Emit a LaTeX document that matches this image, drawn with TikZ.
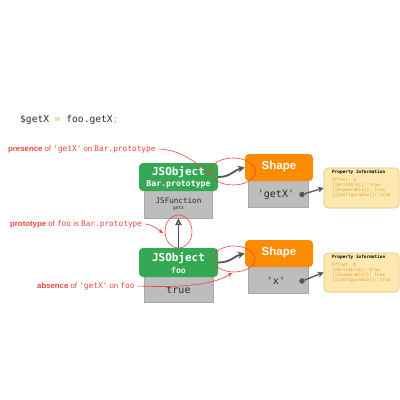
\documentclass[tikz,border=0pt]{standalone}
\usepackage{fontspec}
\setmainfont{Liberation Sans}
\setmonofont{DejaVu Sans Mono}
\usetikzlibrary{arrows.meta,shapes.geometric}
\definecolor{jred}{HTML}{E8453C}
\definecolor{jgreen}{HTML}{34A853}
\definecolor{jorange}{HTML}{FB8C00}
\definecolor{jgray}{HTML}{BDBDBD}
\definecolor{jgrayedge}{HTML}{A9A9A9}
\definecolor{jdark}{HTML}{555555}
\definecolor{jtext}{HTML}{2B2B2B}
\definecolor{pfill}{HTML}{FDE8B0}
\definecolor{pborder}{HTML}{E3C27A}
\definecolor{ptext}{HTML}{E39A2E}
\newcommand{\fs}[1]{\fontsize{#1}{#1}\selectfont}
\begin{document}
\begin{tikzpicture}[x=1pt,y=-1pt,
  greenbox/.style={fill=jgreen, rounded corners=4pt, inner sep=0pt, minimum width=79pt},
  graybox/.style={fill=jgray, draw=jgrayedge, line width=0.4pt, inner sep=0pt},
  orangebox/.style={fill=jorange, rounded corners=4pt, inner sep=0pt, minimum width=68pt, minimum height=27pt},
  propbox/.style={fill=pfill, draw=pborder, line width=0.6pt, rounded corners=4pt, inner sep=0pt, minimum width=75pt},
  redlabel/.style={anchor=west, text=jred, font=\fs{7.8}, inner sep=0pt},
  redline/.style={draw=jred, line width=0.6pt, -{Stealth[length=4.5pt,width=4pt]}},
  redellipse/.style={draw=jred, line width=0.6pt, ellipse, inner sep=0pt},
  darkarrow/.style={draw=jdark, line width=1.8pt, -{Stealth[length=7pt,width=7pt]}},
  dot/.style={circle, fill=jdark, inner sep=0pt, minimum size=5.5pt},
  txt/.style={inner sep=0pt}
]
\useasboundingbox (0,0) rectangle (400,400);

% code line
\node[txt, anchor=west, font=\fs{9.6}\ttfamily, text=jtext] (code) at (20,120)
  {\$getX {\color{jorange!80}=} foo.getX{\color{jgray};}};

% upper group
\node[graybox, minimum width=68pt, minimum height=34pt] (f1) at (178.5,201) {};
\node[greenbox, minimum height=28pt] (g1) at (178.5,177) {};
\node[txt, text=white, font=\fs{11}\ttfamily\bfseries] (g1a) at (178.5,172.5) {JSObject};
\node[txt, text=white, font=\fs{8.2}\ttfamily\bfseries] (g1b) at (178.5,184.5) {Bar.prototype};
\node[txt, text=jtext, font=\fs{7.6}\ttfamily] (f1a) at (178.5,201) {JSFunction};
\node[txt, text=jtext, font=\fs{4.5}\ttfamily] (f1b) at (178.5,208.5) {getX};

\node[graybox, minimum width=60pt, minimum height=30pt] (s1) at (278,192) {};
\node[orangebox] (o1) at (279,167.5) {};
\node[txt, text=white, font=\fs{11.5}\bfseries] (o1a) at (279,167) {Shape};
\node[txt, text=jtext, font=\fs{10}\ttfamily] (s1a) at (276,194.5) {'getX'};
\node[dot] (d1) at (302,194.5) {};

\node[propbox, minimum height=40pt] (p1) at (361.5,188) {};
\node[txt, anchor=north west, align=left, font=\fs{4.4}\ttfamily] (p1a) at (332,170)
  {\textbf{Property information}\\[3.6pt]
   {\color{ptext}Offset: 0}\\[0.6pt]
   {\color{ptext}[[Writable]]: true}\\[0.6pt]
   {\color{ptext}[[Enumerable]]: true}\\[0.6pt]
   {\color{ptext}[[Configurable]]: true}};

% lower group
\node[graybox, minimum width=69pt, minimum height=30pt] (t2) at (178.5,287) {};
\node[greenbox, minimum height=29pt] (g2) at (178.5,262.5) {};
\node[txt, text=white, font=\fs{11}\ttfamily\bfseries] (g2a) at (178.5,258) {JSObject};
\node[txt, text=white, font=\fs{8.2}\ttfamily\bfseries] (g2b) at (178.5,270) {foo};
\node[txt, text=jtext, font=\fs{10}\ttfamily] (t2a) at (178.5,290) {true};

\node[graybox, minimum width=60pt, minimum height=30pt] (s2) at (278,278) {};
\node[orangebox] (o2) at (279,253.5) {};
\node[txt, text=white, font=\fs{11.5}\bfseries] (o2a) at (279,253) {Shape};
\node[txt, text=jtext, font=\fs{10}\ttfamily] (s2a) at (276,281) {'x'};
\node[dot] (d2) at (302,281) {};

\node[propbox, minimum height=39pt] (p2) at (361.5,272.5) {};
\node[txt, anchor=north west, align=left, font=\fs{4.4}\ttfamily] (p2a) at (332,255)
  {\textbf{Property information}\\[3.6pt]
   {\color{ptext}Offset: 0}\\[0.6pt]
   {\color{ptext}[[Writable]]: true}\\[0.6pt]
   {\color{ptext}[[Enumerable]]: true}\\[0.6pt]
   {\color{ptext}[[Configurable]]: true}};

% dark connectors
\draw[darkarrow] (g1.east) .. controls (231,177) and (234,170) .. (o1.west);
\draw[darkarrow] (g2.east) .. controls (231,262.5) and (234,256) .. (o2.west);
\draw[draw=jdark, line width=1.3pt, -{Stealth[length=6pt,width=6pt]}] (d1) -- (p1.west);
\draw[draw=jdark, line width=1.3pt, -{Stealth[length=6pt,width=6pt]}] (d2) -- (p2.west);
\draw[draw=jdark, line width=1.5pt, -{Triangle[open, length=7pt, width=6.5pt]}] (g2.north) -- (f1.south);

% red annotations
\node[redellipse, minimum width=45pt, minimum height=27pt] (e1) at (233,171.5) {};
\node[redellipse, minimum width=42pt, minimum height=26pt] (e2) at (234,259) {};
\node[redellipse, minimum width=27pt, minimum height=33pt] (e3) at (178.5,231.5) {};

\node[redlabel] (l1) at (8,149) {\textbf{presence} of \texttt{'getX'} on \texttt{Bar.prototype}};
\node[redlabel] (l2) at (10,224) {\textbf{prototype} of \texttt{foo} is \texttt{Bar.prototype}};
\node[redlabel] (l3) at (37,286) {\textbf{absence} of \texttt{'getX'} on \texttt{foo}};

\coordinate (tip1) at (210,174);
\coordinate (tip2) at (163,233);
\coordinate (tip3) at (232,273);
\draw[redline] ([xshift=3pt]l1.east) .. controls (182,150) and (196,163) .. (tip1);
\draw[redline] ([xshift=3pt]l2.east) .. controls (153,225) and (157,229) .. (tip2);
\draw[redline] ([xshift=3pt]l3.east) .. controls (185,288) and (215,284) .. (tip3);
\end{tikzpicture}
\end{document}
